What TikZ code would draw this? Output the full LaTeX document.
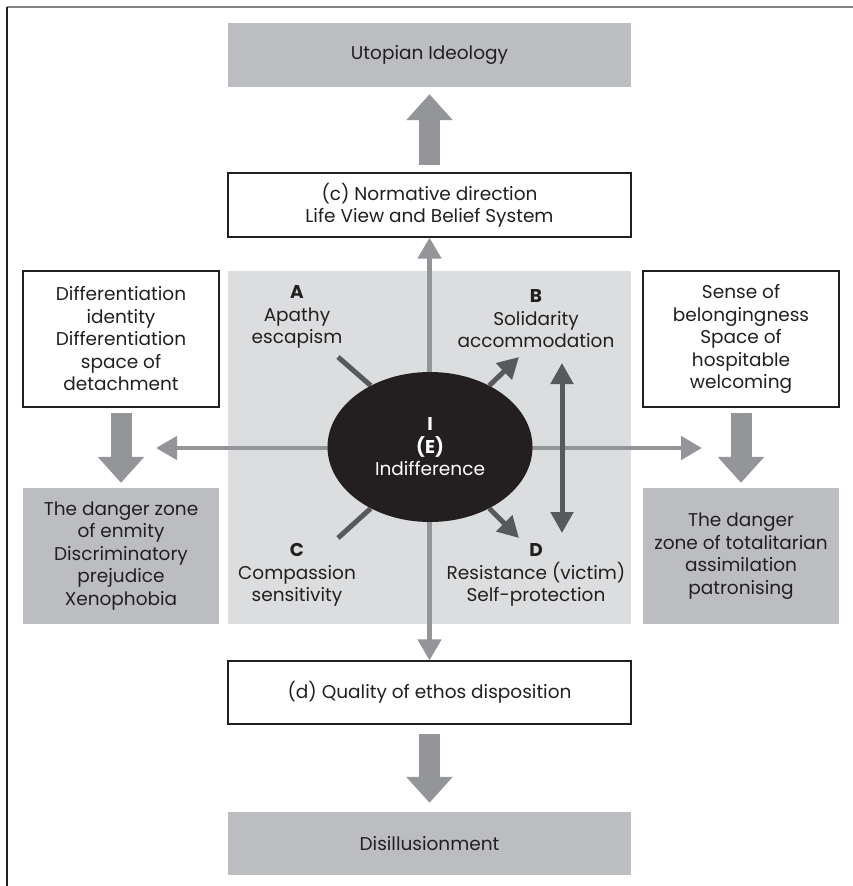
\documentclass[tikz,border=0pt]{standalone}
\usepackage{fontspec}
\setmainfont{Poppins}
\usetikzlibrary{arrows.meta,shapes.geometric}
\definecolor{ink}{HTML}{231F20}
\definecolor{midgray}{HTML}{BCBDC0}
\definecolor{panelgray}{HTML}{DCDDDE}
\definecolor{arrowgray}{HTML}{939598}
\definecolor{darkline}{HTML}{58595B}
\definecolor{framegray}{HTML}{808285}
\begin{document}
\begin{tikzpicture}[x=1pt,y=-1pt,
  txt/.style={font=\fontsize{18.5}{22.5}\selectfont, text=ink, align=center},
  wbox/.style={txt, draw=ink, line width=1.2pt, fill=white, inner sep=0pt},
  gbox/.style={txt, fill=midgray, inner sep=0pt},
  wide/.style={minimum width=403pt, minimum height=64pt},
  side/.style={minimum width=196pt, minimum height=136pt},
  thinarrow/.style={draw=arrowgray, line width=4.5pt, {Triangle[width=23pt,length=21pt]}-{Triangle[width=23pt,length=21pt]}},
  bigarrow/.style={draw=arrowgray, line width=21pt, -{Triangle[width=45pt,length=26pt]}},
  darkarrow/.style={draw=darkline, line width=5pt, -{Triangle[width=22pt,length=21pt]}},
  darkline/.style={draw=darkline, line width=5pt},
  lbl/.style={txt}
]
\useasboundingbox (0,0) rectangle (853,886);
\fill[white] (0,0) rectangle (853,886);
% frame
\coordinate (fTL) at (7,7);
\coordinate (fTR) at (853,7);
\coordinate (fBL) at (7,886);
\draw[framegray, line width=1.4pt] (fTL) -- (fTR);
\draw[ink, line width=1.4pt] (fTL) -- (fBL);

% central panel
\node[fill=panelgray, minimum width=403pt, minimum height=353pt, inner sep=0pt] (panel) at (429.5,447.5) {};

% top / bottom boxes
\node[gbox, wide] (utop) at (429.5,55) {Utopian Ideology};
\node[wbox, wide] (norm) at (429.5,205) {(c) Normative direction\\Life View and Belief System};
\node[wbox, wide, minimum height=63pt] (disp) at (429.5,692.5) {(d) Quality of ethos disposition};
\node[gbox, wide, minimum height=63pt] (disill) at (429.5,843.5) {Disillusionment};

% side boxes
\node[wbox, side] (lw) at (121,339) {Differentiation\\identity\\Differentiation\\space of\\detachment};
\node[gbox, side] (lg) at (121,556) {The danger zone\\of enmity\\Discriminatory\\prejudice\\Xenophobia};
\node[wbox, side] (rw) at (741,339) {Sense of\\belongingness\\Space of\\hospitable\\welcoming};
\node[gbox, side] (rg) at (741,556) {The danger\\zone of totalitarian\\assimilation\\patronising};

% thick arrows
\draw[bigarrow] ([yshift=7pt]norm.north) -- ([yshift=-7pt]utop.south);
\draw[bigarrow] ([yshift=-9pt]disp.south) -- ([yshift=9pt]disill.north);
\draw[bigarrow] ([yshift=-5pt]lw.south) -- ([yshift=5pt]lg.north);
\draw[bigarrow] ([yshift=-5pt]rw.south) -- ([yshift=5pt]rg.north);

% thin gray cross arrows
\coordinate (lt) at (156,448);
\coordinate (rt) at (702,448);
\draw[thinarrow] (norm.south) -- (disp.north);
\draw[thinarrow] (lt) -- (rt);

% diagonal dark line ends
\coordinate (aEnd) at (338,357);
\coordinate (bEnd) at (519,357);
\coordinate (cEnd) at (338,538);
\coordinate (dEnd) at (519,538);
\coordinate (vTop) at (562,363);
\coordinate (vBot) at (562,533);

% ellipse
\node[ellipse, fill=ink, minimum width=205pt, minimum height=150pt, inner sep=0pt,
      font=\fontsize{18.5}{22.5}\selectfont, text=white, align=center] (E) at (430,447)
      {\textbf{I}\\\textbf{(E)}\\Indifference};

\draw[darkline] (aEnd) -- (E.134);
\draw[darkline] (cEnd) -- (E.226);
\draw[darkarrow] (E.46) -- (bEnd);
\draw[darkarrow] (E.314) -- (dEnd);
\draw[darkarrow, {Triangle[width=22pt,length=21pt]}-{Triangle[width=22pt,length=21pt]}] (vTop) -- (vBot);

% quadrant labels
\node[lbl] (A) at (297,317) {\textbf{A}\\Apathy\\escapism};
\node[lbl] (B) at (536,319) {\textbf{B}\\Solidarity\\accommodation};
\node[lbl] (C) at (297,575) {\textbf{C}\\Compassion\\sensitivity};
\node[lbl] (D) at (536,575) {\textbf{D}\\Resistance (victim)\\Self-protection};
\end{tikzpicture}
\end{document}
